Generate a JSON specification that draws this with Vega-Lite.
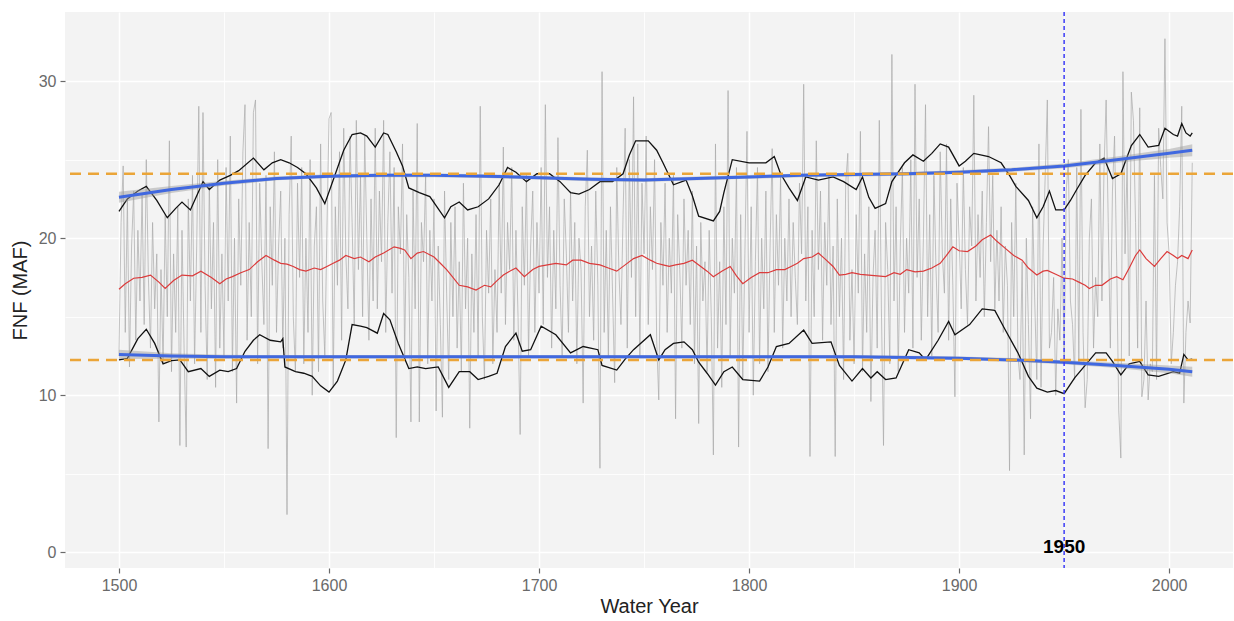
{
  "$schema": "https://vega.github.io/schema/vega-lite/v6.json",
  "width": 1168,
  "height": 556,
  "autosize": {"type": "none"},
  "padding": {"left": 65, "top": 12, "right": 1, "bottom": 53},
  "background": "white",
  "config": {"font": "Liberation Sans", "view": {"fill": "#F3F3F3", "stroke": null}},
  "datasets": {
    "annual": [
{"year":1500,"value":12.5},{"year":1501,"value":21.0},{"year":1502,"value":24.6},{"year":1503,"value":14.0},{"year":1504,"value":22.5},{"year":1505,"value":11.8},{"year":1506,"value":19.5},{"year":1507,"value":23.0},{"year":1508,"value":13.5},{"year":1509,"value":20.5},
{"year":1510,"value":16.0},{"year":1511,"value":22.8},{"year":1512,"value":14.5},{"year":1513,"value":25.0},{"year":1514,"value":17.5},{"year":1515,"value":13.0},{"year":1516,"value":21.0},{"year":1517,"value":15.5},{"year":1518,"value":19.0},{"year":1519,"value":8.3},
{"year":1520,"value":18.0},{"year":1521,"value":12.0},{"year":1522,"value":21.5},{"year":1523,"value":15.0},{"year":1524,"value":26.2},{"year":1525,"value":11.5},{"year":1526,"value":19.0},{"year":1527,"value":14.0},{"year":1528,"value":22.0},{"year":1529,"value":6.8},
{"year":1530,"value":20.5},{"year":1531,"value":13.0},{"year":1532,"value":6.7},{"year":1533,"value":22.5},{"year":1534,"value":16.0},{"year":1535,"value":24.0},{"year":1536,"value":12.0},{"year":1537,"value":19.5},{"year":1538,"value":28.4},{"year":1539,"value":14.0},
{"year":1540,"value":28.0},{"year":1541,"value":17.0},{"year":1542,"value":11.0},{"year":1543,"value":23.5},{"year":1544,"value":15.5},{"year":1545,"value":21.0},{"year":1546,"value":10.5},{"year":1547,"value":25.0},{"year":1548,"value":13.0},{"year":1549,"value":19.0},
{"year":1550,"value":12.5},{"year":1551,"value":24.5},{"year":1552,"value":16.0},{"year":1553,"value":26.5},{"year":1554,"value":11.5},{"year":1555,"value":20.0},{"year":1556,"value":9.5},{"year":1557,"value":22.5},{"year":1558,"value":17.0},{"year":1559,"value":25.5},
{"year":1560,"value":28.5},{"year":1561,"value":13.5},{"year":1562,"value":21.0},{"year":1563,"value":15.0},{"year":1564,"value":28.0},{"year":1565,"value":28.8},{"year":1566,"value":12.0},{"year":1567,"value":23.5},{"year":1568,"value":18.5},{"year":1569,"value":14.5},
{"year":1570,"value":24.0},{"year":1571,"value":6.6},{"year":1572,"value":22.0},{"year":1573,"value":17.0},{"year":1574,"value":25.5},{"year":1575,"value":14.0},{"year":1576,"value":19.5},{"year":1577,"value":23.0},{"year":1578,"value":13.0},{"year":1579,"value":20.0},
{"year":1580,"value":2.4},{"year":1581,"value":21.5},{"year":1582,"value":26.5},{"year":1583,"value":15.0},{"year":1584,"value":11.5},{"year":1585,"value":23.5},{"year":1586,"value":17.5},{"year":1587,"value":24.5},{"year":1588,"value":12.0},{"year":1589,"value":20.0},
{"year":1590,"value":14.0},{"year":1591,"value":25.0},{"year":1592,"value":10.0},{"year":1593,"value":19.5},{"year":1594,"value":22.0},{"year":1595,"value":11.5},{"year":1596,"value":26.0},{"year":1597,"value":16.0},{"year":1598,"value":12.5},{"year":1599,"value":20.5},
{"year":1600,"value":27.6},{"year":1601,"value":28.0},{"year":1602,"value":10.5},{"year":1603,"value":22.0},{"year":1604,"value":17.0},{"year":1605,"value":25.5},{"year":1606,"value":13.5},{"year":1607,"value":27.0},{"year":1608,"value":19.0},{"year":1609,"value":15.5},
{"year":1610,"value":26.5},{"year":1611,"value":21.0},{"year":1612,"value":14.5},{"year":1613,"value":27.5},{"year":1614,"value":18.0},{"year":1615,"value":24.0},{"year":1616,"value":15.0},{"year":1617,"value":26.5},{"year":1618,"value":20.0},{"year":1619,"value":13.5},
{"year":1620,"value":22.5},{"year":1621,"value":16.0},{"year":1622,"value":27.0},{"year":1623,"value":15.5},{"year":1624,"value":23.0},{"year":1625,"value":18.5},{"year":1626,"value":27.5},{"year":1627,"value":14.0},{"year":1628,"value":21.0},{"year":1629,"value":25.5},
{"year":1630,"value":16.5},{"year":1631,"value":24.5},{"year":1632,"value":7.3},{"year":1633,"value":22.0},{"year":1634,"value":19.0},{"year":1635,"value":26.0},{"year":1636,"value":12.5},{"year":1637,"value":21.5},{"year":1638,"value":17.5},{"year":1639,"value":8.3},
{"year":1640,"value":23.0},{"year":1641,"value":15.5},{"year":1642,"value":27.3},{"year":1643,"value":8.3},{"year":1644,"value":21.0},{"year":1645,"value":18.5},{"year":1646,"value":24.0},{"year":1647,"value":12.0},{"year":1648,"value":20.5},{"year":1649,"value":16.0},
{"year":1650,"value":22.5},{"year":1651,"value":9.0},{"year":1652,"value":19.5},{"year":1653,"value":14.5},{"year":1654,"value":8.6},{"year":1655,"value":23.0},{"year":1656,"value":16.5},{"year":1657,"value":11.0},{"year":1658,"value":21.0},{"year":1659,"value":15.0},
{"year":1660,"value":22.0},{"year":1661,"value":13.0},{"year":1662,"value":18.5},{"year":1663,"value":11.5},{"year":1664,"value":23.5},{"year":1665,"value":15.5},{"year":1666,"value":20.0},{"year":1667,"value":7.9},{"year":1668,"value":19.0},{"year":1669,"value":14.0},
{"year":1670,"value":21.5},{"year":1671,"value":12.5},{"year":1672,"value":28.4},{"year":1673,"value":15.0},{"year":1674,"value":11.0},{"year":1675,"value":20.5},{"year":1676,"value":16.5},{"year":1677,"value":22.5},{"year":1678,"value":12.0},{"year":1679,"value":18.0},
{"year":1680,"value":14.0},{"year":1681,"value":23.5},{"year":1682,"value":16.5},{"year":1683,"value":25.8},{"year":1684,"value":14.5},{"year":1685,"value":21.0},{"year":1686,"value":18.0},{"year":1687,"value":24.5},{"year":1688,"value":13.5},{"year":1689,"value":20.5},
{"year":1690,"value":15.0},{"year":1691,"value":7.5},{"year":1692,"value":22.0},{"year":1693,"value":17.0},{"year":1694,"value":24.0},{"year":1695,"value":12.5},{"year":1696,"value":19.5},{"year":1697,"value":23.0},{"year":1698,"value":14.0},{"year":1699,"value":21.0},
{"year":1700,"value":16.5},{"year":1701,"value":24.5},{"year":1702,"value":14.5},{"year":1703,"value":28.5},{"year":1704,"value":17.5},{"year":1705,"value":22.0},{"year":1706,"value":13.0},{"year":1707,"value":20.5},{"year":1708,"value":15.5},{"year":1709,"value":26.4},
{"year":1710,"value":17.0},{"year":1711,"value":12.5},{"year":1712,"value":22.5},{"year":1713,"value":19.0},{"year":1714,"value":14.0},{"year":1715,"value":23.0},{"year":1716,"value":16.0},{"year":1717,"value":21.0},{"year":1718,"value":12.0},{"year":1719,"value":20.0},
{"year":1720,"value":18.0},{"year":1721,"value":9.5},{"year":1722,"value":22.0},{"year":1723,"value":25.6},{"year":1724,"value":15.0},{"year":1725,"value":19.5},{"year":1726,"value":13.5},{"year":1727,"value":23.0},{"year":1728,"value":17.0},{"year":1729,"value":5.35},
{"year":1730,"value":30.6},{"year":1731,"value":14.0},{"year":1732,"value":20.5},{"year":1733,"value":12.5},{"year":1734,"value":22.0},{"year":1735,"value":16.5},{"year":1736,"value":10.8},{"year":1737,"value":24.5},{"year":1738,"value":18.0},{"year":1739,"value":14.5},
{"year":1740,"value":21.5},{"year":1741,"value":27.0},{"year":1742,"value":13.0},{"year":1743,"value":25.0},{"year":1744,"value":17.5},{"year":1745,"value":29.0},{"year":1746,"value":15.0},{"year":1747,"value":26.0},{"year":1748,"value":12.5},{"year":1749,"value":23.5},
{"year":1750,"value":19.0},{"year":1751,"value":26.5},{"year":1752,"value":14.5},{"year":1753,"value":22.0},{"year":1754,"value":18.0},{"year":1755,"value":25.0},{"year":1756,"value":13.5},{"year":1757,"value":9.7},{"year":1758,"value":21.0},{"year":1759,"value":17.0},
{"year":1760,"value":23.5},{"year":1761,"value":14.0},{"year":1762,"value":20.0},{"year":1763,"value":16.5},{"year":1764,"value":24.0},{"year":1765,"value":8.5},{"year":1766,"value":21.5},{"year":1767,"value":18.0},{"year":1768,"value":13.0},{"year":1769,"value":22.5},
{"year":1770,"value":17.0},{"year":1771,"value":20.5},{"year":1772,"value":14.5},{"year":1773,"value":23.0},{"year":1774,"value":12.0},{"year":1775,"value":19.5},{"year":1776,"value":8.2},{"year":1777,"value":21.0},{"year":1778,"value":16.0},{"year":1779,"value":18.5},
{"year":1780,"value":11.5},{"year":1781,"value":20.5},{"year":1782,"value":15.0},{"year":1783,"value":6.2},{"year":1784,"value":26.0},{"year":1785,"value":13.0},{"year":1786,"value":18.5},{"year":1787,"value":10.5},{"year":1788,"value":22.0},{"year":1789,"value":14.5},
{"year":1790,"value":29.4},{"year":1791,"value":12.5},{"year":1792,"value":20.0},{"year":1793,"value":16.5},{"year":1794,"value":24.5},{"year":1795,"value":6.7},{"year":1796,"value":21.5},{"year":1797,"value":11.0},{"year":1798,"value":19.0},{"year":1799,"value":26.8},
{"year":1800,"value":14.0},{"year":1801,"value":22.0},{"year":1802,"value":10.0},{"year":1803,"value":18.5},{"year":1804,"value":24.5},{"year":1805,"value":12.0},{"year":1806,"value":20.0},{"year":1807,"value":15.5},{"year":1808,"value":23.0},{"year":1809,"value":11.5},
{"year":1810,"value":19.5},{"year":1811,"value":25.7},{"year":1812,"value":14.0},{"year":1813,"value":21.5},{"year":1814,"value":17.0},{"year":1815,"value":24.0},{"year":1816,"value":13.0},{"year":1817,"value":20.0},{"year":1818,"value":16.0},{"year":1819,"value":22.5},
{"year":1820,"value":15.0},{"year":1821,"value":21.0},{"year":1822,"value":17.5},{"year":1823,"value":14.5},{"year":1824,"value":23.5},{"year":1825,"value":19.0},{"year":1826,"value":29.8},{"year":1827,"value":16.0},{"year":1828,"value":22.0},{"year":1829,"value":6.1},
{"year":1830,"value":20.5},{"year":1831,"value":15.0},{"year":1832,"value":26.2},{"year":1833,"value":18.0},{"year":1834,"value":23.0},{"year":1835,"value":13.5},{"year":1836,"value":21.0},{"year":1837,"value":17.0},{"year":1838,"value":24.0},{"year":1839,"value":14.5},
{"year":1840,"value":19.5},{"year":1841,"value":6.1},{"year":1842,"value":22.5},{"year":1843,"value":15.0},{"year":1844,"value":20.0},{"year":1845,"value":11.0},{"year":1846,"value":23.5},{"year":1847,"value":25.4},{"year":1848,"value":13.5},{"year":1849,"value":18.0},
{"year":1850,"value":12.0},{"year":1851,"value":21.5},{"year":1852,"value":16.5},{"year":1853,"value":26.8},{"year":1854,"value":11.5},{"year":1855,"value":19.0},{"year":1856,"value":14.0},{"year":1857,"value":22.0},{"year":1858,"value":9.6},{"year":1859,"value":17.5},
{"year":1860,"value":20.5},{"year":1861,"value":13.0},{"year":1862,"value":27.5},{"year":1863,"value":15.5},{"year":1864,"value":6.8},{"year":1865,"value":21.0},{"year":1866,"value":18.0},{"year":1867,"value":12.0},{"year":1868,"value":31.7},{"year":1869,"value":16.0},
{"year":1870,"value":22.0},{"year":1871,"value":11.5},{"year":1872,"value":19.5},{"year":1873,"value":24.5},{"year":1874,"value":14.0},{"year":1875,"value":20.0},{"year":1876,"value":16.5},{"year":1877,"value":25.0},{"year":1878,"value":13.0},{"year":1879,"value":29.8},
{"year":1880,"value":17.5},{"year":1881,"value":22.5},{"year":1882,"value":13.5},{"year":1883,"value":20.0},{"year":1884,"value":28.5},{"year":1885,"value":15.0},{"year":1886,"value":21.5},{"year":1887,"value":12.5},{"year":1888,"value":24.0},{"year":1889,"value":18.0},
{"year":1890,"value":14.0},{"year":1891,"value":25.5},{"year":1892,"value":19.0},{"year":1893,"value":16.5},{"year":1894,"value":26.0},{"year":1895,"value":13.5},{"year":1896,"value":22.5},{"year":1897,"value":17.0},{"year":1898,"value":9.9},{"year":1899,"value":23.5},
{"year":1900,"value":20.0},{"year":1901,"value":15.5},{"year":1902,"value":24.5},{"year":1903,"value":18.0},{"year":1904,"value":14.5},{"year":1905,"value":22.0},{"year":1906,"value":19.5},{"year":1907,"value":29.1},{"year":1908,"value":16.0},{"year":1909,"value":21.5},
{"year":1910,"value":17.5},{"year":1911,"value":23.0},{"year":1912,"value":15.0},{"year":1913,"value":21.0},{"year":1914,"value":27.1},{"year":1915,"value":18.5},{"year":1916,"value":24.0},{"year":1917,"value":15.5},{"year":1918,"value":20.5},{"year":1919,"value":16.0},
{"year":1920,"value":22.0},{"year":1921,"value":14.0},{"year":1922,"value":19.5},{"year":1923,"value":17.0},{"year":1924,"value":5.2},{"year":1925,"value":21.0},{"year":1926,"value":15.0},{"year":1927,"value":23.5},{"year":1928,"value":12.5},{"year":1929,"value":11.0},
{"year":1930,"value":18.5},{"year":1931,"value":6.2},{"year":1932,"value":20.0},{"year":1933,"value":14.5},{"year":1934,"value":8.5},{"year":1935,"value":22.0},{"year":1936,"value":16.0},{"year":1937,"value":11.0},{"year":1938,"value":26.0},{"year":1939,"value":10.5},
{"year":1940,"value":19.5},{"year":1941,"value":24.0},{"year":1942,"value":28.8},{"year":1943,"value":13.0},{"year":1944,"value":14.0},{"year":1945,"value":17.5},{"year":1946,"value":10.0},{"year":1947,"value":15.5},{"year":1948,"value":13.5},{"year":1949,"value":20.0},
{"year":1950,"value":12.5},{"year":1951,"value":23.0},{"year":1952,"value":25.0},{"year":1953,"value":16.0},{"year":1954,"value":14.5},{"year":1955,"value":11.0},{"year":1956,"value":24.5},{"year":1957,"value":12.0},{"year":1958,"value":28.2},{"year":1959,"value":14.0},
{"year":1960,"value":9.2},{"year":1961,"value":11.0},{"year":1962,"value":20.0},{"year":1963,"value":22.5},{"year":1964,"value":13.0},{"year":1965,"value":17.5},{"year":1966,"value":15.0},{"year":1967,"value":26.0},{"year":1968,"value":16.0},{"year":1969,"value":24.5},
{"year":1970,"value":28.8},{"year":1971,"value":21.0},{"year":1972,"value":13.0},{"year":1973,"value":23.0},{"year":1974,"value":26.5},{"year":1975,"value":18.5},{"year":1976,"value":9.0},{"year":1977,"value":6.0},{"year":1978,"value":30.6},{"year":1979,"value":19.0},
{"year":1980,"value":25.0},{"year":1981,"value":12.5},{"year":1982,"value":29.3},{"year":1983,"value":27.5},{"year":1984,"value":21.0},{"year":1985,"value":13.0},{"year":1986,"value":28.3},{"year":1987,"value":9.9},{"year":1988,"value":11.0},{"year":1989,"value":16.0},
{"year":1990,"value":9.7},{"year":1991,"value":12.0},{"year":1992,"value":11.5},{"year":1993,"value":24.0},{"year":1994,"value":11.0},{"year":1995,"value":27.0},{"year":1996,"value":24.5},{"year":1997,"value":22.5},{"year":1998,"value":32.7},{"year":1999,"value":21.0},
{"year":2000,"value":19.0},{"year":2001,"value":12.0},{"year":2002,"value":14.0},{"year":2003,"value":17.0},{"year":2004,"value":18.5},{"year":2005,"value":22.0},{"year":2006,"value":28.4},{"year":2007,"value":9.5},{"year":2008,"value":14.0},{"year":2009,"value":16.0},
{"year":2010,"value":14.6},{"year":2011,"value":24.8}
    ],
    "pct": [
{"band":"upper","year":1500,"value":21.7},{"band":"upper","year":1504,"value":22.5},{"band":"upper","year":1509,"value":23.0},{"band":"upper","year":1513,"value":23.3},{"band":"upper","year":1518,"value":22.4},{"band":"upper","year":1523,"value":21.3},{"band":"upper","year":1527,"value":21.9},{"band":"upper","year":1530,"value":22.3},{"band":"upper","year":1534,"value":21.8},{"band":"upper","year":1540,"value":23.6},{"band":"upper","year":1543,"value":23.1},{"band":"upper","year":1548,"value":23.7},{"band":"upper","year":1553,"value":24.0},{"band":"upper","year":1557,"value":24.3},{"band":"upper","year":1564,"value":25.1},{"band":"upper","year":1569,"value":24.35},{"band":"upper","year":1573,"value":24.8},{"band":"upper","year":1577,"value":25.0},{"band":"upper","year":1581,"value":24.8},{"band":"upper","year":1585,"value":24.5},{"band":"upper","year":1589,"value":24.1},{"band":"upper","year":1594,"value":23.2},{"band":"upper","year":1598,"value":22.2},{"band":"upper","year":1602,"value":23.7},{"band":"upper","year":1607,"value":25.6},{"band":"upper","year":1611,"value":26.6},{"band":"upper","year":1615,"value":26.7},{"band":"upper","year":1618,"value":26.5},{"band":"upper","year":1622,"value":25.8},{"band":"upper","year":1626,"value":26.7},{"band":"upper","year":1628,"value":26.6},{"band":"upper","year":1632,"value":25.5},{"band":"upper","year":1635,"value":24.6},{"band":"upper","year":1638,"value":23.2},{"band":"upper","year":1643,"value":22.9},{"band":"upper","year":1648,"value":22.65},{"band":"upper","year":1655,"value":21.3},{"band":"upper","year":1658,"value":22.0},{"band":"upper","year":1662,"value":22.3},{"band":"upper","year":1666,"value":21.8},{"band":"upper","year":1671,"value":22.0},{"band":"upper","year":1676,"value":22.5},{"band":"upper","year":1681,"value":23.4},{"band":"upper","year":1685,"value":24.5},{"band":"upper","year":1689,"value":24.2},{"band":"upper","year":1694,"value":23.6},{"band":"upper","year":1699,"value":24.1},{"band":"upper","year":1705,"value":24.1},{"band":"upper","year":1710,"value":23.6},{"band":"upper","year":1715,"value":22.9},{"band":"upper","year":1719,"value":22.8},{"band":"upper","year":1724,"value":23.1},{"band":"upper","year":1729,"value":23.6},{"band":"upper","year":1735,"value":23.6},{"band":"upper","year":1740,"value":24.1},{"band":"upper","year":1743,"value":25.3},{"band":"upper","year":1746,"value":26.2},{"band":"upper","year":1752,"value":26.2},{"band":"upper","year":1756,"value":25.6},{"band":"upper","year":1759,"value":24.8},{"band":"upper","year":1764,"value":23.4},{"band":"upper","year":1770,"value":23.7},{"band":"upper","year":1773,"value":22.7},{"band":"upper","year":1776,"value":21.4},{"band":"upper","year":1783,"value":21.1},{"band":"upper","year":1786,"value":21.7},{"band":"upper","year":1788,"value":22.9},{"band":"upper","year":1792,"value":25.0},{"band":"upper","year":1800,"value":24.8},{"band":"upper","year":1808,"value":24.8},{"band":"upper","year":1812,"value":25.2},{"band":"upper","year":1815,"value":24.1},{"band":"upper","year":1819,"value":23.2},{"band":"upper","year":1823,"value":22.4},{"band":"upper","year":1827,"value":23.9},{"band":"upper","year":1833,"value":23.7},{"band":"upper","year":1840,"value":23.9},{"band":"upper","year":1845,"value":23.6},{"band":"upper","year":1851,"value":23.1},{"band":"upper","year":1854,"value":23.9},{"band":"upper","year":1857,"value":22.6},{"band":"upper","year":1860,"value":21.9},{"band":"upper","year":1865,"value":22.2},{"band":"upper","year":1868,"value":23.6},{"band":"upper","year":1874,"value":24.8},{"band":"upper","year":1878,"value":25.3},{"band":"upper","year":1883,"value":24.9},{"band":"upper","year":1887,"value":25.4},{"band":"upper","year":1891,"value":26.0},{"band":"upper","year":1895,"value":25.8},{"band":"upper","year":1900,"value":24.6},{"band":"upper","year":1903,"value":24.9},{"band":"upper","year":1907,"value":25.4},{"band":"upper","year":1914,"value":25.2},{"band":"upper","year":1920,"value":24.8},{"band":"upper","year":1924,"value":24.0},{"band":"upper","year":1927,"value":23.3},{"band":"upper","year":1933,"value":22.4},{"band":"upper","year":1937,"value":21.3},{"band":"upper","year":1940,"value":22.0},{"band":"upper","year":1943,"value":23.0},{"band":"upper","year":1946,"value":21.8},{"band":"upper","year":1950,"value":21.8},{"band":"upper","year":1953,"value":22.4},{"band":"upper","year":1956,"value":23.1},{"band":"upper","year":1960,"value":24.0},{"band":"upper","year":1965,"value":24.8},{"band":"upper","year":1969,"value":25.1},{"band":"upper","year":1973,"value":23.8},{"band":"upper","year":1977,"value":24.1},{"band":"upper","year":1982,"value":25.9},{"band":"upper","year":1986,"value":26.6},{"band":"upper","year":1990,"value":25.8},{"band":"upper","year":1995,"value":25.9},{"band":"upper","year":1998,"value":27.0},{"band":"upper","year":2002,"value":26.6},{"band":"upper","year":2004,"value":26.5},{"band":"upper","year":2006,"value":27.3},{"band":"upper","year":2008,"value":26.7},{"band":"upper","year":2010,"value":26.5},{"band":"upper","year":2011,"value":26.7},
{"band":"lower","year":1500,"value":12.25},{"band":"lower","year":1504,"value":12.35},{"band":"lower","year":1509,"value":13.6},{"band":"lower","year":1513,"value":14.2},{"band":"lower","year":1517,"value":13.3},{"band":"lower","year":1521,"value":12.0},{"band":"lower","year":1525,"value":12.2},{"band":"lower","year":1529,"value":12.25},{"band":"lower","year":1533,"value":11.5},{"band":"lower","year":1539,"value":11.7},{"band":"lower","year":1543,"value":11.2},{"band":"lower","year":1548,"value":11.6},{"band":"lower","year":1552,"value":11.5},{"band":"lower","year":1556,"value":11.7},{"band":"lower","year":1560,"value":12.8},{"band":"lower","year":1564,"value":13.5},{"band":"lower","year":1567,"value":13.85},{"band":"lower","year":1572,"value":13.5},{"band":"lower","year":1577,"value":13.4},{"band":"lower","year":1578,"value":13.6},{"band":"lower","year":1579,"value":11.8},{"band":"lower","year":1584,"value":11.5},{"band":"lower","year":1588,"value":11.4},{"band":"lower","year":1592,"value":11.2},{"band":"lower","year":1596,"value":10.6},{"band":"lower","year":1600,"value":10.2},{"band":"lower","year":1604,"value":10.9},{"band":"lower","year":1608,"value":12.25},{"band":"lower","year":1611,"value":14.5},{"band":"lower","year":1615,"value":14.4},{"band":"lower","year":1618,"value":14.3},{"band":"lower","year":1623,"value":13.95},{"band":"lower","year":1626,"value":15.2},{"band":"lower","year":1629,"value":14.8},{"band":"lower","year":1633,"value":13.3},{"band":"lower","year":1638,"value":11.7},{"band":"lower","year":1642,"value":11.8},{"band":"lower","year":1646,"value":11.7},{"band":"lower","year":1652,"value":11.8},{"band":"lower","year":1657,"value":10.5},{"band":"lower","year":1662,"value":11.5},{"band":"lower","year":1667,"value":11.5},{"band":"lower","year":1671,"value":11.0},{"band":"lower","year":1676,"value":11.2},{"band":"lower","year":1680,"value":11.4},{"band":"lower","year":1684,"value":13.1},{"band":"lower","year":1689,"value":13.95},{"band":"lower","year":1692,"value":12.8},{"band":"lower","year":1696,"value":12.9},{"band":"lower","year":1701,"value":14.4},{"band":"lower","year":1708,"value":13.85},{"band":"lower","year":1715,"value":12.7},{"band":"lower","year":1721,"value":13.1},{"band":"lower","year":1728,"value":12.9},{"band":"lower","year":1730,"value":11.9},{"band":"lower","year":1737,"value":11.6},{"band":"lower","year":1741,"value":12.3},{"band":"lower","year":1745,"value":12.9},{"band":"lower","year":1753,"value":13.85},{"band":"lower","year":1757,"value":12.25},{"band":"lower","year":1760,"value":12.9},{"band":"lower","year":1764,"value":13.3},{"band":"lower","year":1769,"value":13.4},{"band":"lower","year":1773,"value":12.9},{"band":"lower","year":1776,"value":12.1},{"band":"lower","year":1780,"value":11.4},{"band":"lower","year":1784,"value":10.65},{"band":"lower","year":1788,"value":11.5},{"band":"lower","year":1792,"value":11.8},{"band":"lower","year":1797,"value":11.0},{"band":"lower","year":1805,"value":10.9},{"band":"lower","year":1809,"value":11.8},{"band":"lower","year":1813,"value":13.1},{"band":"lower","year":1819,"value":13.3},{"band":"lower","year":1826,"value":14.15},{"band":"lower","year":1830,"value":13.3},{"band":"lower","year":1839,"value":13.4},{"band":"lower","year":1843,"value":11.9},{"band":"lower","year":1849,"value":10.9},{"band":"lower","year":1854,"value":11.7},{"band":"lower","year":1858,"value":11.1},{"band":"lower","year":1861,"value":11.5},{"band":"lower","year":1865,"value":11.0},{"band":"lower","year":1870,"value":11.1},{"band":"lower","year":1876,"value":12.9},{"band":"lower","year":1881,"value":12.7},{"band":"lower","year":1884,"value":12.25},{"band":"lower","year":1890,"value":13.5},{"band":"lower","year":1895,"value":14.7},{"band":"lower","year":1898,"value":13.85},{"band":"lower","year":1905,"value":14.5},{"band":"lower","year":1911,"value":15.5},{"band":"lower","year":1917,"value":15.4},{"band":"lower","year":1922,"value":14.15},{"band":"lower","year":1928,"value":12.7},{"band":"lower","year":1933,"value":11.2},{"band":"lower","year":1937,"value":10.45},{"band":"lower","year":1942,"value":10.2},{"band":"lower","year":1946,"value":10.3},{"band":"lower","year":1950,"value":10.1},{"band":"lower","year":1955,"value":11.1},{"band":"lower","year":1960,"value":11.9},{"band":"lower","year":1965,"value":12.7},{"band":"lower","year":1970,"value":12.7},{"band":"lower","year":1973,"value":12.15},{"band":"lower","year":1977,"value":11.3},{"band":"lower","year":1981,"value":12.0},{"band":"lower","year":1986,"value":12.15},{"band":"lower","year":1990,"value":11.3},{"band":"lower","year":1995,"value":11.2},{"band":"lower","year":2002,"value":11.5},{"band":"lower","year":2005,"value":11.4},{"band":"lower","year":2007,"value":12.6},{"band":"lower","year":2009,"value":12.25},{"band":"lower","year":2011,"value":12.3}
    ],
    "mean": [
{"year":1500,"value":16.75},{"year":1503,"value":17.1},{"year":1507,"value":17.45},{"year":1511,"value":17.5},{"year":1515,"value":17.65},{"year":1519,"value":17.2},{"year":1522,"value":16.8},{"year":1526,"value":17.3},{"year":1530,"value":17.65},{"year":1535,"value":17.6},{"year":1539,"value":17.9},{"year":1544,"value":17.5},{"year":1548,"value":17.1},{"year":1551,"value":17.4},{"year":1554,"value":17.55},{"year":1558,"value":17.8},{"year":1562,"value":18.0},{"year":1566,"value":18.5},{"year":1570,"value":18.9},{"year":1574,"value":18.6},{"year":1577,"value":18.4},{"year":1580,"value":18.35},{"year":1583,"value":18.2},{"year":1586,"value":18.0},{"year":1589,"value":17.9},{"year":1593,"value":18.1},{"year":1596,"value":18.0},{"year":1599,"value":18.2},{"year":1602,"value":18.4},{"year":1605,"value":18.6},{"year":1608,"value":18.9},{"year":1612,"value":18.7},{"year":1615,"value":18.8},{"year":1619,"value":18.5},{"year":1622,"value":18.8},{"year":1626,"value":19.05},{"year":1631,"value":19.45},{"year":1634,"value":19.35},{"year":1636,"value":19.25},{"year":1639,"value":18.7},{"year":1642,"value":19.05},{"year":1645,"value":19.15},{"year":1650,"value":18.8},{"year":1653,"value":18.4},{"year":1656,"value":18.0},{"year":1659,"value":17.5},{"year":1662,"value":17.0},{"year":1666,"value":16.9},{"year":1670,"value":16.7},{"year":1674,"value":17.0},{"year":1677,"value":16.9},{"year":1680,"value":17.3},{"year":1683,"value":17.65},{"year":1686,"value":17.9},{"year":1689,"value":18.1},{"year":1693,"value":17.55},{"year":1697,"value":18.0},{"year":1700,"value":18.2},{"year":1704,"value":18.3},{"year":1708,"value":18.4},{"year":1713,"value":18.3},{"year":1716,"value":18.6},{"year":1720,"value":18.6},{"year":1724,"value":18.4},{"year":1729,"value":18.3},{"year":1733,"value":18.1},{"year":1737,"value":17.9},{"year":1741,"value":18.3},{"year":1745,"value":18.7},{"year":1749,"value":18.9},{"year":1753,"value":18.6},{"year":1756,"value":18.4},{"year":1759,"value":18.3},{"year":1762,"value":18.2},{"year":1765,"value":18.3},{"year":1769,"value":18.4},{"year":1773,"value":18.6},{"year":1777,"value":18.2},{"year":1780,"value":17.9},{"year":1783,"value":17.55},{"year":1787,"value":17.9},{"year":1791,"value":18.2},{"year":1794,"value":17.6},{"year":1797,"value":17.1},{"year":1801,"value":17.5},{"year":1805,"value":17.8},{"year":1809,"value":17.8},{"year":1813,"value":18.0},{"year":1817,"value":18.0},{"year":1820,"value":18.2},{"year":1823,"value":18.4},{"year":1826,"value":18.7},{"year":1830,"value":18.8},{"year":1833,"value":19.05},{"year":1836,"value":18.7},{"year":1840,"value":18.2},{"year":1843,"value":17.65},{"year":1846,"value":17.7},{"year":1849,"value":17.8},{"year":1853,"value":17.7},{"year":1857,"value":17.65},{"year":1861,"value":17.6},{"year":1865,"value":17.55},{"year":1869,"value":17.8},{"year":1872,"value":17.7},{"year":1875,"value":18.0},{"year":1879,"value":17.85},{"year":1883,"value":17.9},{"year":1887,"value":18.1},{"year":1891,"value":18.4},{"year":1894,"value":18.9},{"year":1897,"value":19.45},{"year":1900,"value":19.2},{"year":1904,"value":19.15},{"year":1908,"value":19.5},{"year":1911,"value":19.9},{"year":1915,"value":20.2},{"year":1918,"value":19.8},{"year":1922,"value":19.35},{"year":1926,"value":18.9},{"year":1930,"value":18.6},{"year":1933,"value":18.1},{"year":1937,"value":17.65},{"year":1940,"value":17.9},{"year":1942,"value":17.95},{"year":1946,"value":17.7},{"year":1950,"value":17.45},{"year":1954,"value":17.4},{"year":1957,"value":17.2},{"year":1960,"value":17.0},{"year":1962,"value":16.8},{"year":1965,"value":17.0},{"year":1968,"value":17.0},{"year":1972,"value":17.4},{"year":1975,"value":17.55},{"year":1978,"value":17.35},{"year":1981,"value":18.1},{"year":1984,"value":18.9},{"year":1986,"value":19.25},{"year":1989,"value":18.7},{"year":1993,"value":18.2},{"year":1996,"value":18.7},{"year":1999,"value":19.15},{"year":2002,"value":18.9},{"year":2004,"value":18.7},{"year":2006,"value":18.9},{"year":2009,"value":18.7},{"year":2011,"value":19.25}
    ],
    "smooth": [
{"band":"upper","year":1500,"value":22.6,"lo":22.25,"hi":22.95},{"band":"upper","year":1525,"value":23.1,"lo":22.88,"hi":23.32},{"band":"upper","year":1550,"value":23.5,"lo":23.35,"hi":23.65},{"band":"upper","year":1575,"value":23.8,"lo":23.68,"hi":23.92},{"band":"upper","year":1600,"value":23.95,"lo":23.83,"hi":24.07},{"band":"upper","year":1625,"value":24.0,"lo":23.88,"hi":24.12},{"band":"upper","year":1650,"value":24.0,"lo":23.88,"hi":24.12},{"band":"upper","year":1675,"value":23.95,"lo":23.83,"hi":24.07},{"band":"upper","year":1700,"value":23.85,"lo":23.73,"hi":23.97},{"band":"upper","year":1725,"value":23.75,"lo":23.63,"hi":23.87},{"band":"upper","year":1750,"value":23.7,"lo":23.58,"hi":23.82},{"band":"upper","year":1775,"value":23.8,"lo":23.68,"hi":23.92},{"band":"upper","year":1800,"value":23.9,"lo":23.78,"hi":24.02},{"band":"upper","year":1825,"value":24.0,"lo":23.88,"hi":24.12},{"band":"upper","year":1850,"value":24.05,"lo":23.93,"hi":24.17},{"band":"upper","year":1875,"value":24.1,"lo":23.98,"hi":24.22},{"band":"upper","year":1900,"value":24.2,"lo":24.08,"hi":24.32},{"band":"upper","year":1925,"value":24.35,"lo":24.22,"hi":24.48},{"band":"upper","year":1950,"value":24.6,"lo":24.45,"hi":24.75},{"band":"upper","year":1975,"value":25.0,"lo":24.8,"hi":25.2},{"band":"upper","year":2000,"value":25.4,"lo":25.12,"hi":25.68},{"band":"upper","year":2011,"value":25.6,"lo":25.22,"hi":25.98},
{"band":"lower","year":1500,"value":12.6,"lo":12.3,"hi":12.9},{"band":"lower","year":1525,"value":12.5,"lo":12.32,"hi":12.68},{"band":"lower","year":1550,"value":12.45,"lo":12.33,"hi":12.57},{"band":"lower","year":1600,"value":12.45,"lo":12.34,"hi":12.56},{"band":"lower","year":1700,"value":12.45,"lo":12.34,"hi":12.56},{"band":"lower","year":1800,"value":12.45,"lo":12.34,"hi":12.56},{"band":"lower","year":1850,"value":12.45,"lo":12.34,"hi":12.56},{"band":"lower","year":1875,"value":12.4,"lo":12.29,"hi":12.51},{"band":"lower","year":1900,"value":12.35,"lo":12.24,"hi":12.46},{"band":"lower","year":1925,"value":12.25,"lo":12.13,"hi":12.37},{"band":"lower","year":1950,"value":12.1,"lo":11.97,"hi":12.23},{"band":"lower","year":1975,"value":11.9,"lo":11.73,"hi":12.07},{"band":"lower","year":2000,"value":11.65,"lo":11.4,"hi":11.9},{"band":"lower","year":2011,"value":11.5,"lo":11.18,"hi":11.82}
    ],
    "hlines": [{"value": 24.1}, {"value": 12.25}],
    "marker": [{"year": 1950, "label": "1950"}]
  },
  "layer": [
    {
      "data": {"name": "annual"},
      "mark": {"type": "line", "color": "#a9a9a9", "opacity": 0.7, "strokeWidth": 1},
      "encoding": {
        "x": {
          "field": "year", "type": "quantitative",
          "scale": {"domain": [1474.3, 2030.4], "nice": false, "zero": false},
          "title": "Water Year",
          "axis": {
            "values": [1500, 1550, 1600, 1650, 1700, 1750, 1800, 1850, 1900, 1950, 2000],
            "format": "d",
            "labelExpr": "datum.value % 100 === 0 ? datum.label : ''",
            "domain": false,
            "grid": true,
            "gridColor": "#ffffff",
            "gridWidth": {"condition": {"test": "datum.value % 100 !== 0", "value": 0.8}, "value": 1.6},
            "tickOpacity": {"condition": {"test": "datum.value % 100 !== 0", "value": 0}, "value": 1},
            "tickColor": "#6a6a6a", "tickSize": 5, "tickWidth": 1.2,
            "labelFontSize": 16, "labelColor": "#6a6a6a", "labelPadding": 4,
            "titleFontSize": 20, "titleFontWeight": "normal", "titleColor": "#222222", "titlePadding": 3
          }
        },
        "y": {
          "field": "value", "type": "quantitative",
          "scale": {"domain": [-1.0, 34.4], "nice": false, "zero": false},
          "title": "FNF (MAF)",
          "axis": {
            "values": [0, 5, 10, 15, 20, 25, 30],
            "labelExpr": "datum.value % 10 === 0 ? datum.label : ''",
            "domain": false,
            "grid": true,
            "gridColor": "#ffffff",
            "gridWidth": {"condition": {"test": "datum.value % 10 !== 0", "value": 0.8}, "value": 1.6},
            "tickOpacity": {"condition": {"test": "datum.value % 10 !== 0", "value": 0}, "value": 1},
            "tickColor": "#6a6a6a", "tickSize": 5, "tickWidth": 1.2,
            "labelFontSize": 16, "labelColor": "#6a6a6a", "labelPadding": 4,
            "titleFontSize": 20, "titleFontWeight": "normal", "titleColor": "#222222", "titlePadding": 8
          }
        }
      }
    },
    {
      "data": {"name": "pct"},
      "mark": {"type": "line", "color": "#111111", "strokeWidth": 1.3},
      "encoding": {
        "x": {"field": "year", "type": "quantitative", "title": "Water Year"},
        "y": {"field": "value", "type": "quantitative", "title": "FNF (MAF)"},
        "detail": {"field": "band"}
      }
    },
    {
      "data": {"name": "mean"},
      "mark": {"type": "line", "color": "#db3b3b", "strokeWidth": 1.2},
      "encoding": {
        "x": {"field": "year", "type": "quantitative", "title": "Water Year"},
        "y": {"field": "value", "type": "quantitative", "title": "FNF (MAF)"}
      }
    },
    {
      "data": {"name": "smooth"},
      "mark": {"type": "area", "color": "#999999", "opacity": 0.45},
      "encoding": {
        "x": {"field": "year", "type": "quantitative", "title": "Water Year"},
        "y": {"field": "lo", "type": "quantitative", "title": "FNF (MAF)"},
        "y2": {"field": "hi"},
        "detail": {"field": "band"}
      }
    },
    {
      "data": {"name": "smooth"},
      "mark": {"type": "line", "color": "#4068e0", "strokeWidth": 3},
      "encoding": {
        "x": {"field": "year", "type": "quantitative", "title": "Water Year"},
        "y": {"field": "value", "type": "quantitative", "title": "FNF (MAF)"},
        "detail": {"field": "band"}
      }
    },
    {
      "data": {"name": "hlines"},
      "mark": {"type": "rule", "color": "#eba538", "strokeWidth": 2.5, "strokeDash": [11, 7]},
      "encoding": {
        "y": {"field": "value", "type": "quantitative", "title": "FNF (MAF)"}
      }
    },
    {
      "data": {"name": "marker"},
      "mark": {"type": "rule", "color": "#3b3bf5", "strokeWidth": 1.5, "strokeDash": [4, 3]},
      "encoding": {
        "x": {"field": "year", "type": "quantitative", "title": "Water Year"}
      }
    },
    {
      "data": {"name": "marker"},
      "mark": {"type": "text", "fontWeight": "bold", "fontSize": 19, "color": "#000000", "align": "center", "baseline": "middle", "dy": -5},
      "encoding": {
        "x": {"field": "year", "type": "quantitative", "title": "Water Year"},
        "y": {"datum": 0, "type": "quantitative", "title": "FNF (MAF)"},
        "text": {"field": "label"}
      }
    }
  ]
}
